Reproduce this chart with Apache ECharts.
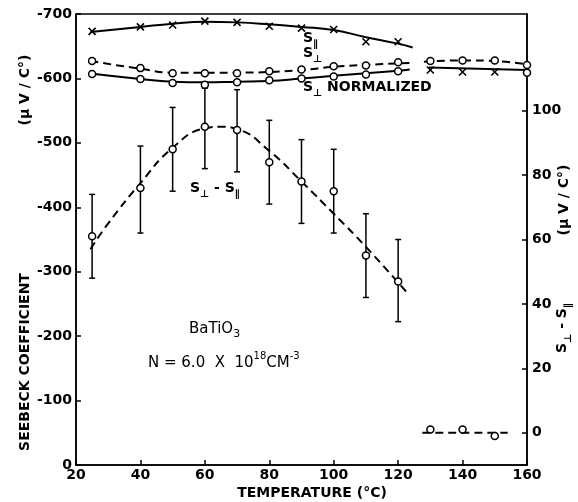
<!DOCTYPE html>
<html>
<head>
<meta charset="utf-8">
<script src="https://cdn.jsdelivr.net/npm/echarts@6/dist/echarts.min.js"></script>
<style>html,body{margin:0;padding:0;background:#fff;}#c{width:578px;height:502px;}</style>
</head>
<body>
<div id="c"></div>
<script>
// ---- data (temperature in °C, Seebeck coefficient in µV/C°) ----
const xTicks = [20, 40, 60, 80, 100, 120, 140, 160];
const rightTicks = [0, 20, 40, 60, 80, 100];

const tempLow = [25, 40, 50, 60, 70, 80, 90, 100, 110, 120];
const sPara = [-673, -680, -683, -689, -687, -681, -678, -676, -657, -657];
const sPerp = [-627, -616, -608, -608, -608, -611, -614, -619, -620, -625];
const sNorm = [-607, -599, -593, -590, -594, -597, -600, -603, -606, -611];

const sParaFitT = [24.5, 40, 50, 60, 70, 80, 90, 100, 110, 120, 124.5];
const sParaFit = [-672, -680, -685, -688, -687, -684, -680, -675, -664, -654, -648];
const sPerpFitT = [24.5, 40, 50, 60, 70, 80, 90, 100, 110, 120, 123.5];
const sPerpFit = [-627, -615, -609, -609, -609, -610, -613, -618, -621, -623.5, -624];
const sNormFitT = [24.5, 40, 50, 60, 70, 80, 90, 100, 110, 120, 123.6];
const sNormFit = [-607.5, -599, -595, -594, -595, -596, -600, -604, -608, -612, -614];

const tempHigh = [130, 140, 150, 160];
const sPerpHigh = [-627, -628, -628, -621];
const sPerpHighFitT = [128, 140, 150, 160];
const sPerpHighFit = [-626, -628, -627, -622];
const sParaHighT = [130, 140, 150];
const sParaHigh = [-613, -610, -610];
const sNormHighT = [160];
const sNormHigh = [-609];
const sHighFitT = [129.5, 160];
const sHighFit = [-617, -613];

const diff = [61, 76, 88, 95, 94, 84, 78, 75, 55, 47];
const diffLow = [48, 62, 75, 82, 81, 71, 65, 62, 42, 34.5];
const diffHigh = [74, 89, 101, 107, 106.5, 97, 91, 88, 68, 60];
const diffFitT = [24.5, 30, 40, 50, 60, 65, 70, 80, 90, 100, 110, 122.5];
const diffFit = [57, 65, 77.5, 88.5, 94.5, 95, 94.3, 87.5, 78, 68, 57.7, 43.8];
const diffHighT = [130, 140, 150];
const diffHighV = [1, 1, -1];
const diffHighFitT = [127.5, 154];
const diffHighFit = [0, 0];

const zip = (a, b) => a.map((v, i) => [v, b[i]]);

const FONT = 'DejaVu Sans';
const black = '#000';
const crossPath = 'path://M0,0L10,10M10,0L0,10';

const lineStyleSolid = { color: black, width: 2 };
const lineStyleDash = { color: black, width: 2, type: [8, 5] };

function fitLine(data, dashed, yIdx) {
  return {
    type: 'line', data: data, yAxisIndex: yIdx || 0, smooth: true,
    showSymbol: false, symbol: 'none', silent: true,
    lineStyle: dashed ? lineStyleDash : lineStyleSolid, z: 2
  };
}
function circles(data, yIdx) {
  return {
    type: 'scatter', data: data, yAxisIndex: yIdx || 0, symbol: 'circle', symbolSize: 7,
    itemStyle: { color: '#fff', borderColor: black, borderWidth: 1.5, opacity: 1 }, z: 5
  };
}
function crosses(data) {
  return {
    type: 'scatter', data: data, symbol: crossPath, symbolSize: 7,
    itemStyle: { color: 'none', borderColor: black, borderWidth: 1.6, opacity: 1 }, z: 5
  };
}

const chart = echarts.init(document.getElementById('c'), null, { renderer: 'canvas' });

const axisLabelStyle = { color: black, fontFamily: FONT, fontWeight: 'bold', fontSize: 14 };
const sub2 = (fs, bfs) => ({
  s: { fontFamily: FONT, fontWeight: 'bold', fontSize: fs, fill: black, lineHeight: 18, verticalAlign: 'top' },
  b: { fontFamily: FONT, fontWeight: 'bold', fontSize: bfs, fill: black, lineHeight: 18, verticalAlign: 'bottom' }
});

const option = {
  animation: false,
  backgroundColor: '#fff',
  grid: { left: 76, right: 51, top: 14, bottom: 37, show: true, borderColor: black, borderWidth: 1.5, backgroundColor: 'transparent' },
  xAxis: {
    type: 'value', min: 20, max: 160, interval: 20,
    axisLine: { lineStyle: { color: black, width: 1.5 } },
    axisTick: { inside: true, length: 5, lineStyle: { color: black, width: 1.5 } },
    axisLabel: Object.assign({ margin: 3, formatter: v => xTicks.includes(v) ? String(v) : '' }, axisLabelStyle),
    splitLine: { show: false }
  },
  yAxis: [
    {
      type: 'value', min: -700, max: 0, interval: 100, inverse: true,
      axisLine: { show: true, lineStyle: { color: black, width: 1.5 } },
      axisTick: { show: true, inside: true, length: 5, lineStyle: { color: black, width: 1.5 } },
      axisLabel: Object.assign({ margin: 4 }, axisLabelStyle),
      splitLine: { show: false }
    },
    {
      type: 'value', min: -10, max: 130, position: 'right',
      axisLine: { show: true, lineStyle: { color: black, width: 1.5 } },
      axisTick: { show: true, inside: true, length: 5, customValues: rightTicks, lineStyle: { color: black, width: 1.5 } },
      axisLabel: Object.assign({ margin: 5, customValues: rightTicks }, axisLabelStyle),
      splitLine: { show: false }
    }
  ],
  series: [
    // S parallel
    fitLine(zip(sParaFitT, sParaFit), false),
    crosses(zip(tempLow, sPara)),
    // S perp (dashed)
    fitLine(zip(sPerpFitT, sPerpFit), true),
    circles(zip(tempLow, sPerp)),
    // S perp normalized
    fitLine(zip(sNormFitT, sNormFit), false),
    circles(zip(tempLow, sNorm)),
    // high-temperature (cubic) branch
    fitLine(zip(sPerpHighFitT, sPerpHighFit), true),
    circles(zip(tempHigh, sPerpHigh)),
    fitLine(zip(sHighFitT, sHighFit), false),
    crosses(zip(sParaHighT, sParaHigh)),
    circles(zip(sNormHighT, sNormHigh)),
    // S perp - S parallel (right axis)
    {
      type: 'custom', yAxisIndex: 1, z: 3, silent: true,
      data: tempLow.map((t, i) => [t, diffLow[i], diffHigh[i]]),
      renderItem: function (params, api) {
        const p1 = api.coord([api.value(0), api.value(1)]);
        const p2 = api.coord([api.value(0), api.value(2)]);
        const w = 3;
        const st = { stroke: black, lineWidth: 1.5 };
        return {
          type: 'group', children: [
            { type: 'line', shape: { x1: p1[0], y1: p1[1], x2: p2[0], y2: p2[1] }, style: st },
            { type: 'line', shape: { x1: p1[0] - w, y1: p1[1], x2: p1[0] + w, y2: p1[1] }, style: st },
            { type: 'line', shape: { x1: p2[0] - w, y1: p2[1], x2: p2[0] + w, y2: p2[1] }, style: st }
          ]
        };
      }
    },
    fitLine(zip(diffFitT, diffFit), true, 1),
    circles(zip(tempLow, diff), 1),
    fitLine(zip(diffHighFitT, diffHighFit), true, 1),
    circles(zip(diffHighT, diffHighV), 1)
  ],
  graphic: [
    // axis titles
    { type: 'text', x: 25, y: 362, rotation: Math.PI / 2,
      style: { text: 'SEEBECK COEFFICIENT', fontFamily: FONT, fontWeight: 'bold', fontSize: 14, fill: black, align: 'center', verticalAlign: 'middle' } },
    { type: 'text', x: 25, y: 90, rotation: Math.PI / 2,
      style: { text: '(μ V / C°)', fontFamily: FONT, fontWeight: 'bold', fontSize: 14, fill: black, align: 'center', verticalAlign: 'middle' } },
    { type: 'text', x: 312, y: 493,
      style: { text: 'TEMPERATURE (°C)', fontFamily: FONT, fontWeight: 'bold', fontSize: 14, fill: black, align: 'center', verticalAlign: 'middle' } },
    { type: 'text', x: 564, y: 328, rotation: Math.PI / 2,
      style: { text: '{s|S}{b|⊥}{s| - S}{b|∥}', align: 'center', verticalAlign: 'middle', rich: sub2(14, 10) } },
    { type: 'text', x: 564, y: 200, rotation: Math.PI / 2,
      style: { text: '(μ V / C°)', fontFamily: FONT, fontWeight: 'bold', fontSize: 14, fill: black, align: 'center', verticalAlign: 'middle' } },
    // curve labels
    { type: 'text', x: 303, y: 40,
      style: { text: '{s|S}{b|∥}', align: 'left', verticalAlign: 'middle', rich: sub2(14, 10) } },
    { type: 'text', x: 303, y: 55,
      style: { text: '{s|S}{b|⊥}', align: 'left', verticalAlign: 'middle', rich: sub2(14, 10) } },
    { type: 'text', x: 303, y: 89,
      style: { text: '{s|S}{b|⊥}{s| NORMALIZED}', align: 'left', verticalAlign: 'middle', rich: sub2(14, 10) } },
    { type: 'text', x: 190, y: 190,
      style: { text: '{s|S}{b|⊥}{s| - S}{b|∥}', align: 'left', verticalAlign: 'middle', rich: sub2(14, 10) } },
    { type: 'text', x: 189, y: 331,
      style: { text: '{s|BaTiO}{b|3}', align: 'left', verticalAlign: 'middle',
        rich: { s: { fontFamily: FONT, fontSize: 15, fill: black, lineHeight: 18, verticalAlign: 'top' },
                b: { fontFamily: FONT, fontSize: 11, fill: black, lineHeight: 18, verticalAlign: 'bottom' } } } },
    { type: 'text', x: 148, y: 361,
      style: { text: '{s|N = 6.0  X  10}{p|18}{s|CM}{p|-3}', align: 'left', verticalAlign: 'middle',
        rich: { s: { fontFamily: FONT, fontSize: 15, fill: black, lineHeight: 20, verticalAlign: 'bottom' },
                p: { fontFamily: FONT, fontSize: 10, fill: black, lineHeight: 20, verticalAlign: 'top' } } } }
  ]
};
chart.setOption(option);
</script>
</body>
</html>
